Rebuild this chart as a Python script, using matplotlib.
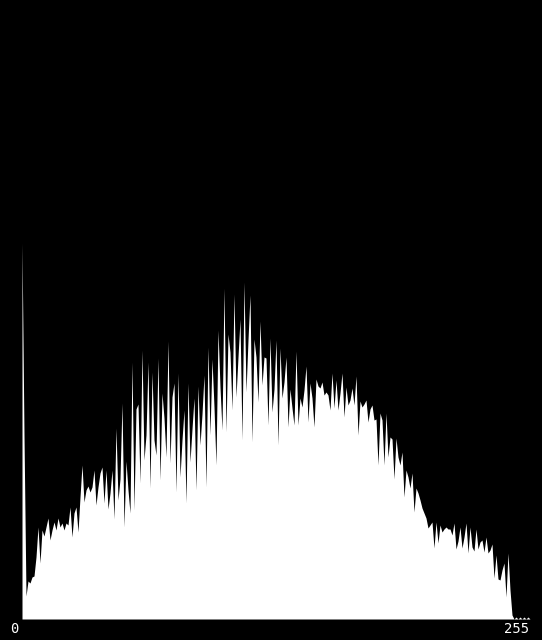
import numpy as np
import matplotlib
matplotlib.use('Agg')
import matplotlib.pyplot as plt

# histogram counts per grey level (0..255)
counts = [
    376, 184, 23, 38, 36, 42, 43, 62, 92, 56,
    89, 83, 92, 101, 79, 89, 97, 89, 101, 92,
    96, 89, 96, 94, 112, 82, 106, 112, 87, 122,
    154, 117, 129, 133, 127, 132, 149, 114, 132, 146,
    152, 116, 149, 110, 126, 149, 100, 191, 119, 140,
    216, 92, 158, 129, 106, 257, 109, 210, 215, 136,
    269, 159, 184, 257, 131, 247, 179, 164, 261, 139,
    226, 201, 162, 278, 156, 222, 236, 127, 246, 142,
    179, 209, 116, 236, 157, 190, 221, 129, 233, 174,
    205, 244, 132, 272, 184, 260, 212, 154, 289, 232,
    189, 331, 187, 285, 267, 209, 325, 222, 262, 300,
    179, 337, 227, 279, 324, 177, 280, 262, 217, 298,
    234, 262, 261, 194, 281, 207, 230, 279, 174, 271,
    221, 237, 262, 192, 230, 211, 194, 268, 194, 221,
    212, 229, 253, 197, 236, 221, 192, 240, 233, 231,
    237, 224, 227, 224, 209, 246, 211, 239, 209, 226,
    246, 202, 232, 214, 219, 231, 214, 243, 184, 218,
    212, 215, 219, 197, 210, 214, 199, 200, 154, 206,
    199, 154, 206, 162, 182, 180, 140, 181, 162, 154,
    167, 122, 149, 142, 131, 146, 107, 131, 126, 119,
    111, 106, 101, 91, 94, 97, 71, 97, 76, 94,
    87, 90, 92, 90, 90, 84, 96, 70, 78, 92,
    71, 82, 96, 66, 92, 72, 68, 90, 70, 77,
    79, 67, 82, 66, 69, 75, 41, 64, 40, 39,
    49, 56, 22, 66, 29, 4, 0, 2, 0, 2,
    0, 2, 0, 2, 0, 0,
]
levels = np.arange(256)
label_left = '0'
label_right = '255'

fig = plt.figure(figsize=(5.42, 6.4), dpi=100, facecolor='black')
ax = fig.add_axes([0, 21 / 640, 1, 619 / 640])
ax.set_facecolor('black')

ax.fill_between(levels, counts, color='white', lw=0, antialiased=False)

ax.set_xlim(-11, 260)
ax.set_ylim(0, 619)
ax.axis('off')

fig.text(14.5 / 542, 1 - 629 / 640, label_left, ha='center', va='center',
         color='white', family='DejaVu Sans Mono', fontsize=10)
fig.text(516.5 / 542, 1 - 629 / 640, label_right, ha='center', va='center',
         color='white', family='DejaVu Sans Mono', fontsize=10)

fig.savefig('out.png', dpi=100, facecolor='black')
